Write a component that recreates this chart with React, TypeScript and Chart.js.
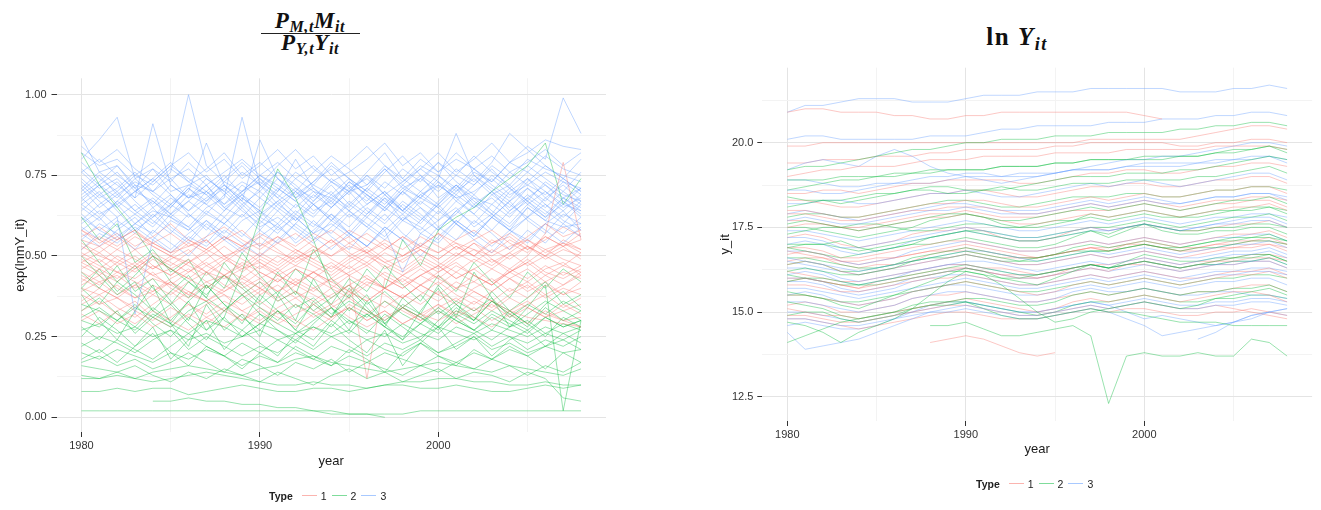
import React, { useEffect, useRef } from "react";
import { Chart, registerables } from "chart.js";
Chart.register(...registerables);

type V = number | null;

const YEARS = [1980, 1981, 1982, 1983, 1984, 1985, 1986, 1987, 1988, 1989, 1990, 1991, 1992, 1993, 1994, 1995, 1996, 1997, 1998, 1999, 2000, 2001, 2002, 2003, 2004, 2005, 2006, 2007, 2008];
const X_TICKS = [1980, 1985, 1990, 1995, 2000, 2005];
const X_MAJOR = [1980, 1990, 2000];
const TYPE_LABELS = ["1", "2", "3"];

const LEFT_Y_MAJOR = [0, 0.25, 0.5, 0.75, 1.0];
const LEFT_Y_MINOR = [0.125, 0.375, 0.625, 0.875];
const RIGHT_Y_MAJOR = [12.5, 15.0, 17.5, 20.0];
const RIGHT_Y_MINOR = [13.75, 16.25, 18.75, 21.25];

// Left panel: exp(lnmY_it), Type 1 (red)
const shareType1: V[][] = [
  [.55,.53,.56,.52,.54,.51,.53,.55,.50,.52,.54,.51,.49,.52,.50,.53,.51,.48,.50,.53,.51,.54,.52,.50,.53,.55,.52,.54,.51],
  [.50,.47,.45,.48,.44,.46,.49,.45,.43,.46,.48,.44,.47,.45,.42,.45,.48,.44,.41,.44,.47,.43,.46,.49,.45,.48,.52,.49,.47],
  [.45,.42,.44,.40,.43,.41,.38,.42,.44,.40,.43,.39,.42,.45,.41,.38,.42,.40,.37,.41,.44,.40,.42,.39,.43,.46,.42,.45,.43],
  [.58,.55,.52,.56,.53,.50,.54,.51,.55,.58,.53,.56,.52,.49,.53,.56,.51,.54,.50,.53,.57,.52,.55,.58,.54,.51,.56,.53,.57],
  [.38,.35,.37,.33,.30,.34,.31,.35,.38,.33,.36,.32,.35,.31,.34,.37,.33,.30,.34,.31,.35,.32,.36,.33,.37,.34,.31,.35,.32],
  [.48,.51,.47,.50,.46,.49,.52,.47,.50,.45,.49,.46,.50,.47,.44,.48,.51,.46,.49,.52,.48,.45,.49,.46,.50,.53,.49,.52,.50],
  [.42,.46,.43,.47,.44,.41,.45,.48,.44,.41,.45,.42,.46,.43,.40,.44,.12,.43,.40,.44,.41,.45,.42,.46,.43,.40,.44,.41,.45],
  [.53,.50,.48,.45,.49,.46,.43,.47,.44,.48,.45,.42,.46,.43,.47,.44,.41,.45,.42,.46,.43,.47,.44,.41,.45,.42,.46,.48,.44],
  [.33,.36,.32,.29,.33,.30,.27,.31,.34,.30,.33,.29,.32,.35,.31,.34,.30,.33,.29,.32,.35,.31,.34,.30,.33,.36,.32,.30,.28],
  [.47,.44,.48,.52,.47,.44,.48,.45,.49,.46,.50,.47,.51,.48,.45,.49,.52,.48,.45,.49,.46,.50,.54,.49,.46,.50,.57,.79,.55],
  [.40,.38,.41,.37,.39,.42,.38,.36,.39,.42,.38,.41,.37,.40,.43,.39,.36,.40,.37,.41,.38,.42,.39,.36,.40,.37,.41,.38,.42],
  [.52,.56,.53,.57,.54,.51,.55,.52,.56,.53,.50,.54,.57,.53,.50,.54,.51,.55,.52,.56,.53,.50,.54,.51,.55,.52,.56,.53,.55],
  [.36,.40,.37,.34,.38,.35,.39,.36,.33,.37,.40,.36,.39,.35,.38,.41,.37,.34,.38,.35,.39,.36,.40,.43,.39,.42,.38,.41,.44],
  [.44,.41,.45,.42,.39,.43,.46,.42,.39,.43,.40,.44,.41,.45,.42,.39,.43,.40,.44,.47,.43,.40,.44,.41,.45,.48,.44,.47,.45],
  [.30,.33,.29,.32,.28,.31,.35,.31,.28,.32,.29,.33,.30,.27,.31,.34,.30,.33,.29,.32,.30,.33,.31,.28,.32,.29,.33,.30,.31],
  [.49,.46,.50,.47,.51,.48,.45,.49,.53,.49,.46,.50,.47,.51,.55,.50,.47,.51,.48,.52,.49,.53,.50,.47,.51,.55,.51,.54,.52],
  [.56,.59,.55,.58,.54,.57,.53,.56,.59,.55,.52,.56,.53,.57,.54,.58,.55,.52,.56,.53,.57,.54,.50,.55,.52,.56,.60,.56,.58],
  [.41,.44,.40,.37,.41,.38,.42,.45,.41,.38,.42,.39,.43,.40,.37,.41,.44,.40,.37,.41,.38,.35,.39,.36,.33,.31,.30,.29,.28],
  [.46,.49,.45,.43,.47,.44,.48,.51,.46,.43,.47,.44,.41,.45,.48,.44,.47,.43,.40,.44,.47,.43,.46,.42,.45,.49,.45,.43,.46],
  [.51,.48,.52,.49,.46,.50,.47,.44,.48,.52,.48,.45,.49,.53,.49,.46,.50,.47,.44,.48,.45,.49,.52,.48,.51,.47,.50,.53,.49],
  [.39,.42,.38,.41,.45,.40,.37,.41,.38,.35,.39,.43,.39,.36,.40,.37,.41,.38,.34,.38,.42,.38,.35,.39,.43,.39,.42,.38,.40],
  [.54,.51,.55,.58,.53,.50,.48,.52,.49,.53,.56,.52,.48,.51,.55,.51,.48,.52,.56,.52,.49,.53,.50,.54,.57,.53,.50,.55,.52],
  [.43,.40,.37,.41,.38,.42,.39,.36,.40,.44,.40,.37,.41,.38,.35,.39,.36,.40,.43,.39,.36,.40,.37,.34,.38,.41,.37,.40,.38],
  [.58,.54,.57,.53,.56,.60,.55,.52,.56,.53,.57,.54,.51,.55,.58,.54,.57,.53,.50,.54,.51,.55,.58,.54,.56,.52,.55,.59,.56],
  [.35,.38,.34,.31,.35,.39,.35,.32,.36,.33,.30,.34,.37,.33,.30,.35,.32,.36,.33,.30,.34,.37,.33,.36,.32,.35,.38,.34,.37],
  [.48,.45,.42,.46,.50,.46,.43,.40,.44,.47,.43,.46,.42,.39,.43,.47,.43,.40,.44,.41,.45,.48,.44,.41,.46,.43,.47,.44,.47],
  [.50,.53,.49,.46,.50,.47,.51,.55,.50,.47,.51,.48,.52,.49,.46,.50,.53,.49,.46,.50,.47,.51,.48,.52,.49,.53,.50,.47,.51],
  [.32,.29,.33,.36,.31,.28,.32,.29,.33,.30,.34,.31,.28,.32,.35,.31,.28,.31,.34,.30,.33,.29,.32,.35,.31,.34,.31,.33,.35],
];

// Left panel, Type 2 (green)
const shareType2: V[][] = [
  [.02,.02,.02,.02,.02,.02,.02,.02,.02,.02,.02,.02,.02,.02,.01,.01,.01,.01,.01,.02,.02,.02,.02,.02,.02,.02,.02,.02,.02],
  [null,null,null,null,.05,.05,.06,.05,.05,.04,.04,.03,.03,.02,.02,.01,.01,.00,null,null,null,null,null,null,null,null,null,null,null],
  [.08,.08,.09,.08,.09,.09,.07,.08,.09,.10,.09,.08,.08,.09,.09,.08,.09,.10,.10,.09,.09,.10,.09,.08,.08,.09,.10,.09,.10],
  [.12,.12,.13,.12,.11,.12,.13,.14,.13,.12,.11,.10,.10,.11,.10,.10,.09,.10,.11,.11,.12,.12,.11,.11,.10,.10,.11,.10,.10],
  [.16,.15,.14,.12,.14,.15,.16,.15,.14,.13,.15,.16,.18,.19,.17,.16,.15,.14,.15,.16,.17,.16,.15,.14,.16,.15,.14,.13,.15],
  [.22,.25,.23,.20,.24,.27,.21,.25,.22,.19,.22,.20,.24,.21,.25,.22,.19,.23,.21,.24,.20,.23,.26,.22,.25,.21,.24,.22,.25],
  [.82,.72,.65,.58,.50,.46,.42,.38,.44,.40,.35,.39,.34,.37,.32,.36,.33,.30,.34,.31,.28,.32,.29,.33,.30,.27,.31,.28,.30],
  [.30,.28,.33,.26,.31,.35,.29,.24,.31,.45,.62,.77,.68,.55,.40,.33,.38,.29,.34,.31,.27,.33,.30,.36,.32,.28,.34,.30,.33],
  [.27,.29,.26,.28,.25,.27,.24,.26,.23,.25,.27,.24,.26,.28,.25,.27,.24,.26,.23,.25,.28,.26,.24,.27,.25,.23,.26,.24,.27],
  [.35,.33,.30,.34,.31,.28,.33,.36,.30,.27,.32,.29,.26,.30,.34,.29,.32,.28,.25,.29,.33,.30,.27,.31,.28,.32,.36,.33,.30],
  [.45,.40,.47,.39,.43,.36,.30,.41,.35,.29,.38,.33,.27,.36,.31,.40,.34,.28,.37,.32,.41,.35,.30,.39,.33,.37,.42,.35,.38],
  [.20,.18,.21,.19,.17,.20,.18,.21,.19,.16,.19,.17,.20,.18,.16,.19,.17,.20,.18,.16,.19,.17,.20,.18,.21,.19,.22,.20,.21],
  [.38,.30,.24,.33,.41,.29,.22,.35,.27,.32,.25,.38,.30,.43,.34,.27,.36,.29,.24,.33,.40,.31,.45,.37,.28,.34,.41,.02,.30],
  [.50,.44,.38,.42,.33,.29,.36,.27,.31,.25,.29,.33,.27,.24,.30,.26,.32,.28,.24,.29,.26,.31,.27,.24,.28,.30,.26,.29,.27],
  [.25,.31,.27,.22,.28,.18,.24,.30,.21,.27,.23,.19,.26,.22,.29,.24,.20,.27,.16,.23,.28,.21,.25,.19,.24,.27,.22,.26,.23],
  [.40,.35,.42,.38,.33,.39,.44,.37,.48,.41,.36,.45,.38,.52,.43,.37,.46,.40,.55,.47,.58,.62,.65,.70,.74,.78,.85,.66,.74],
  [.31,.34,.30,.27,.32,.29,.26,.30,.28,.25,.29,.27,.24,.28,.26,.30,.27,.25,.29,.26,.24,.28,.26,.29,.27,.25,.28,.26,.28],
  [.18,.21,.17,.22,.26,.20,.16,.22,.19,.15,.20,.17,.22,.19,.16,.21,.18,.14,.20,.23,.19,.16,.21,.18,.22,.19,.15,.20,.17],
  [.55,.48,.42,.47,.40,.35,.42,.37,.33,.38,.34,.30,.35,.32,.28,.34,.31,.36,.32,.29,.34,.30,.27,.32,.29,.26,.31,.28,.30],
  [.13,.12,.14,.16,.13,.11,.14,.12,.15,.13,.11,.14,.12,.10,.13,.15,.12,.14,.11,.13,.15,.12,.14,.13,.11,.14,.12,.06,.05],
  [.28,.24,.30,.35,.29,.25,.31,.27,.33,.38,.32,.27,.23,.29,.34,.30,.26,.32,.28,.24,.30,.35,.31,.27,.33,.29,.25,.31,.28],
  [.33,.37,.32,.28,.34,.30,.36,.41,.35,.31,.27,.33,.29,.35,.31,.38,.33,.29,.35,.32,.28,.34,.30,.36,.33,.29,.35,.39,.34],
  [.23,.20,.24,.21,.18,.22,.26,.22,.19,.23,.20,.24,.21,.18,.22,.20,.24,.21,.19,.23,.20,.22,.25,.21,.23,.20,.22,.24,.21],
  [.62,.55,.60,.48,.52,.45,.49,.40,.44,.38,.42,.36,.39,.33,.37,.41,.35,.39,.34,.38,.32,.36,.33,.37,.31,.35,.32,.36,.33],
  [.17,.19,.16,.18,.15,.17,.20,.17,.14,.18,.16,.13,.17,.15,.18,.14,.17,.15,.13,.16,.14,.17,.15,.18,.16,.13,.16,.14,.17],
  [.40,.46,.39,.44,.50,.42,.37,.45,.40,.51,.44,.38,.46,.41,.35,.43,.39,.47,.41,.36,.44,.39,.48,.42,.37,.45,.40,.46,.42],
];

// Left panel, Type 3 (blue)
const shareType3: V[][] = [
  [.87,.76,.78,.72,.70,.74,.68,.72,.66,.70,.73,.69,.65,.70,.68,.72,.66,.70,.64,.69,.72,.68,.70,.74,.69,.72,.76,.73,.71],
  [.80,.86,.93,.74,.77,.70,.72,.75,.69,.73,.70,.76,.71,.68,.74,.70,.72,.77,.71,.74,.70,.75,.72,.78,.74,.80,.77,.75,.73],
  [.76,.71,.74,.68,.91,.72,.68,.70,.65,.62,.68,.64,.70,.66,.61,.67,.63,.69,.64,.60,.66,.71,.65,.68,.63,.67,.62,.66,.64],
  [.70,.75,.69,.73,.70,.76,1.0,.78,.73,.70,.75,.72,.68,.73,.77,.71,.74,.69,.73,.78,.75,.70,.76,.73,.79,.82,.86,.84,.83],
  [.68,.63,.66,.60,.64,.62,.59,.65,.68,.93,.72,.66,.70,.64,.67,.62,.66,.70,.65,.61,.67,.72,.68,.66,.71,.67,.73,.69,.67],
  [.66,.70,.64,.58,.62,.66,.70,.85,.72,.67,.86,.74,.68,.71,.66,.73,.69,.64,.70,.75,.68,.72,.66,.70,.64,.68,.72,.67,.62],
  [.72,.67,.62,.32,.55,.61,.58,.63,.60,.56,.62,.59,.64,.60,.57,.63,.59,.55,.61,.58,.64,.60,.56,.62,.58,.65,.61,.59,.60],
  [.63,.58,.62,.66,.61,.57,.63,.59,.55,.61,.64,.58,.62,.57,.60,.56,.62,.58,.45,.57,.61,.65,.59,.63,.58,.62,.66,.61,.58],
  [.58,.62,.56,.60,.65,.59,.55,.61,.57,.63,.58,.54,.60,.66,.62,.57,.63,.68,.61,.65,.59,.63,.69,.64,.60,.66,.62,.68,.64],
  [.77,.72,.76,.70,.74,.79,.73,.77,.82,.75,.79,.74,.70,.76,.81,.77,.72,.78,.74,.80,.76,.82,.77,.73,.79,.84,.80,.99,.88],
  [.69,.73,.78,.71,.66,.72,.68,.74,.70,.65,.71,.76,.72,.67,.73,.70,.76,.82,.74,.70,.75,.71,.77,.72,.68,.74,.70,.66,.71],
  [.55,.60,.57,.52,.58,.54,.50,.56,.62,.57,.53,.59,.55,.61,.56,.52,.58,.63,.57,.53,.59,.55,.61,.57,.52,.58,.54,.60,.56],
  [.74,.69,.65,.70,.67,.63,.69,.66,.72,.68,.64,.70,.80,.71,.67,.73,.69,.65,.71,.68,.74,.88,.75,.70,.76,.72,.69,.74,.70],
  [.61,.66,.70,.64,.68,.63,.67,.72,.65,.69,.74,.68,.63,.69,.65,.70,.75,.69,.64,.70,.66,.72,.67,.63,.70,.74,.68,.72,.67],
  [.52,.57,.54,.59,.55,.51,.56,.53,.58,.54,.50,.55,.60,.56,.52,.57,.53,.58,.63,.57,.54,.60,.55,.51,.57,.62,.58,.54,.59],
  [.79,.74,.70,.75,.72,.77,.73,.69,.74,.79,.74,.70,.76,.72,.78,.74,.70,.76,.81,.75,.71,.77,.73,.79,.88,.83,.78,.74,.80],
  [.65,.61,.67,.63,.59,.65,.71,.66,.62,.68,.64,.60,.66,.62,.68,.64,.69,.65,.61,.67,.63,.69,.65,.70,.66,.62,.68,.64,.69],
  [.71,.76,.72,.68,.73,.78,.74,.70,.66,.72,.68,.74,.69,.73,.79,.74,.70,.66,.72,.77,.73,.69,.75,.71,.67,.73,.78,.74,.70],
  [.59,.55,.61,.57,.63,.58,.54,.60,.56,.52,.58,.64,.59,.55,.61,.57,.53,.59,.55,.61,.66,.60,.56,.62,.58,.54,.60,.57,.62],
  [.67,.72,.68,.74,.69,.65,.71,.67,.73,.78,.72,.68,.74,.70,.65,.71,.67,.73,.69,.74,.79,.73,.69,.75,.71,.76,.72,.68,.65],
  [null,null,null,null,null,.62,.67,.63,.69,.64,.60,.66,.62,.57,.63,.59,.65,.61,.67,.63,.58,.64,.60,.66,.62,.68,.64,.60,.66],
  [.82,.78,.80,.75,.79,.74,.77,.72,.76,.80,.75,.79,.74,.78,.73,.76,.80,.85,.78,.82,.76,.80,.77,.81,.76,.79,.83,.78,.82],
  [.64,.69,.73,.67,.62,.68,.64,.70,.75,.69,.65,.71,.67,.63,.69,.74,.68,.64,.70,.66,.72,.68,.63,.69,.65,.71,.67,.73,.69],
  [.73,.68,.71,.76,.70,.66,.72,.69,.64,.70,.75,.71,.67,.72,.69,.65,.71,.77,.72,.68,.65,.70,.74,.69,.72,.67,.63,.68,.71],
  [.60,.64,.59,.63,.67,.62,.58,.64,.60,.66,.61,.57,.63,.59,.65,.70,.64,.60,.66,.62,.58,.64,.68,.63,.59,.65,.61,.67,.63],
  [.76,.80,.75,.71,.77,.73,.79,.74,.70,.76,.72,.78,.83,.77,.73,.69,.75,.71,.77,.73,.79,.75,.81,.76,.72,.78,.74,.70,.76],
  [.57,.53,.58,.62,.56,.52,.57,.61,.55,.51,.56,.60,.54,.58,.63,.57,.53,.59,.55,.50,.56,.61,.57,.53,.58,.55,.60,.64,.58],
  [.68,.72,.66,.70,.74,.69,.64,.68,.72,.67,.62,.67,.71,.66,.61,.66,.71,.67,.63,.68,.73,.67,.72,.77,.71,.66,.70,.65,.68],
  [.71,.65,.69,.64,.60,.66,.62,.67,.71,.66,.70,.65,.61,.67,.72,.66,.62,.68,.64,.69,.65,.60,.66,.62,.67,.71,.66,.62,.67],
  [.62,.58,.55,.60,.57,.63,.59,.54,.60,.65,.59,.62,.58,.54,.59,.64,.60,.56,.62,.59,.55,.61,.57,.62,.67,.61,.57,.63,.60],
  [.84,.79,.83,.77,.73,.78,.82,.76,.80,.74,.78,.83,.77,.81,.75,.79,.84,.78,.73,.77,.82,.76,.80,.85,.79,.76,.81,.77,.75],
  [.66,.62,.67,.72,.65,.69,.63,.58,.64,.69,.63,.67,.61,.66,.70,.64,.59,.65,.70,.65,.61,.67,.63,.58,.64,.69,.65,.70,.66],
];

// Right panel: y_it (ln Y), Type 1 (red)
const outputType1: V[][] = [
  [20.9,21.0,21.0,20.9,20.9,20.9,20.8,20.8,20.7,20.7,20.8,20.8,20.9,20.9,20.9,20.9,20.9,20.9,20.9,20.9,20.8,20.7,null,null,null,null,null,null,null],
  [19.9,19.9,20.0,20.0,20.0,20.0,20.0,20.0,20.0,20.0,20.0,20.0,20.0,20.0,20.0,20.0,20.0,20.1,20.1,20.1,20.1,20.1,20.1,20.2,20.3,20.4,20.5,20.5,20.4],
  [19.0,19.1,19.2,19.2,19.3,19.3,19.3,19.4,19.5,19.5,19.5,19.6,19.6,19.6,19.6,19.7,19.7,19.7,19.7,19.8,19.8,19.8,19.8,19.8,19.9,19.9,19.9,19.9,19.8],
  [18.5,18.5,18.6,18.6,18.5,18.6,18.7,18.8,18.8,18.9,18.9,18.9,18.9,18.8,18.8,18.9,19.0,19.1,19.1,19.2,19.2,19.1,19.1,19.2,19.3,19.3,19.4,19.4,19.3],
  [18.0,18.0,17.9,17.8,17.8,17.9,18.0,18.1,18.2,18.2,18.3,18.3,18.2,18.1,18.1,18.2,18.3,18.4,18.3,18.4,18.5,18.4,18.4,18.5,18.6,18.6,18.7,18.7,18.5],
  [17.5,17.6,17.6,17.5,17.4,17.5,17.6,17.7,17.8,17.8,17.9,17.8,17.7,17.6,17.6,17.7,17.8,17.9,17.8,17.9,18.0,17.9,17.8,17.9,18.0,18.1,18.1,18.2,18.0],
  [16.9,16.9,16.8,16.6,16.6,16.7,16.8,16.9,17.0,17.1,17.1,17.0,16.9,16.8,16.8,16.9,17.0,17.1,17.0,17.1,17.2,17.1,17.0,17.1,17.2,17.3,17.3,17.4,17.2],
  [16.4,16.5,16.4,16.2,16.1,16.2,16.3,16.4,16.5,16.6,16.7,16.6,16.5,16.4,16.4,16.5,16.6,16.7,16.6,16.7,16.8,16.7,16.6,16.7,16.8,16.9,16.9,17.0,16.8],
  [16.0,16.0,15.9,15.8,15.7,15.8,15.9,16.0,16.1,16.2,16.3,16.2,16.1,16.0,16.0,16.1,16.2,16.3,16.2,16.4,16.5,16.4,16.3,16.4,16.5,16.5,16.6,16.6,16.5],
  [15.5,15.5,15.4,15.3,15.2,15.3,15.4,15.6,15.7,15.8,15.9,15.8,15.7,15.6,15.5,15.6,15.8,15.9,15.8,15.9,16.0,15.9,15.8,15.9,16.0,16.1,16.1,16.2,16.0],
  [15.1,15.0,14.9,14.9,14.8,14.9,15.0,15.1,15.2,15.3,15.4,15.3,15.2,15.1,15.0,15.1,15.3,15.4,15.3,15.4,15.5,15.4,15.3,15.4,15.5,15.6,15.6,15.5,15.3],
  [null,null,null,null,null,null,null,null,14.1,14.2,14.3,14.2,14.0,13.8,13.7,13.8,null,null,null,null,null,null,null,null,null,null,null,null,null],
  [16.7,16.8,16.7,16.5,16.5,16.6,16.6,16.7,16.8,16.9,17.0,16.9,16.8,16.7,16.6,16.7,16.8,16.9,16.8,17.0,17.1,17.0,16.9,16.9,17.0,17.0,17.1,17.1,17.0],
  [15.8,15.8,15.7,15.6,15.6,15.7,15.8,15.9,16.0,16.0,16.1,16.0,15.9,15.8,15.8,15.9,16.0,16.1,16.0,16.1,16.2,16.1,16.0,16.0,16.1,16.2,16.2,16.3,16.1],
  [17.9,17.9,17.8,17.7,17.7,17.8,17.9,18.0,18.0,18.1,18.1,18.1,18.0,17.9,17.9,18.0,18.1,18.2,18.1,18.2,18.3,18.2,18.1,18.2,18.3,18.3,18.4,18.4,18.3],
  [14.9,14.9,14.8,14.7,14.7,14.8,14.9,15.0,15.1,15.2,15.2,15.1,15.0,14.9,14.9,15.0,15.1,15.2,15.1,15.2,15.3,15.2,15.1,15.1,15.2,15.1,15.0,14.9,14.8],
  [17.2,17.3,17.2,17.0,16.9,17.0,17.1,17.3,17.4,17.4,17.5,17.4,17.2,17.1,17.1,17.2,17.4,17.5,17.4,17.5,17.6,17.5,17.4,17.4,17.5,17.6,17.6,17.7,17.5],
  [16.2,16.1,16.0,15.9,15.9,16.0,16.1,16.2,16.3,16.4,16.4,16.3,16.3,16.2,16.1,16.2,16.3,16.4,16.4,16.5,16.6,16.5,16.4,16.5,16.5,16.6,16.7,16.7,16.6],
  [15.2,15.3,15.2,15.0,15.0,15.1,15.2,15.4,15.5,15.5,15.6,15.5,15.4,15.3,15.3,15.4,15.5,15.6,15.5,15.6,15.7,15.6,15.5,15.6,15.6,15.7,15.8,15.8,15.6],
  [18.3,18.3,18.2,18.1,18.1,18.2,18.3,18.4,18.5,18.5,18.6,18.6,18.5,18.4,18.4,18.5,18.6,18.7,18.7,18.8,18.8,18.7,18.7,18.8,18.9,18.9,19.0,19.0,18.8],
  [16.5,16.6,16.6,16.4,16.3,16.4,16.4,16.5,16.7,16.8,16.8,16.7,16.6,16.6,16.6,16.7,16.8,16.9,16.9,17.0,17.0,16.9,16.8,16.9,17.0,17.1,17.1,17.2,17.0],
  [14.8,14.8,14.7,14.6,14.5,14.6,14.7,14.8,14.9,15.0,15.0,14.9,14.8,14.8,14.8,14.9,15.0,15.1,15.0,15.1,15.1,15.0,14.9,14.9,15.0,15.0,15.1,15.0,14.9],
  [17.7,17.7,17.6,17.5,17.5,17.6,17.7,17.8,17.9,17.9,18.0,17.9,17.8,17.8,17.8,17.9,18.0,18.0,18.0,18.1,18.2,18.1,18.0,18.1,18.2,18.2,18.3,18.3,18.1],
  [15.9,16.0,15.9,15.8,15.7,15.9,16.0,16.1,16.2,16.3,16.3,16.2,16.1,16.1,16.0,16.1,16.3,16.4,16.3,16.4,16.4,16.3,16.2,16.3,16.4,16.4,16.5,16.5,16.3],
  [19.4,19.4,19.5,19.5,19.5,19.6,19.6,19.6,19.7,19.7,19.8,19.8,19.8,19.8,19.8,19.9,19.9,20.0,20.0,20.0,20.0,20.0,19.9,19.9,20.0,20.0,20.1,20.1,20.0],
  [16.8,16.7,16.6,16.5,16.4,16.5,16.6,16.7,16.8,16.8,16.9,16.8,16.7,16.6,16.6,16.7,16.8,16.9,16.8,16.9,17.0,16.9,16.8,16.8,16.9,16.9,17.0,17.0,16.9],
];

// Right panel, Type 2 (green)
const outputType2: V[][] = [
  [19.2,19.3,19.3,19.4,19.5,19.6,19.7,19.8,19.8,19.9,20.0,20.0,20.1,20.1,20.1,20.2,20.2,20.2,20.3,20.3,20.3,20.3,20.4,20.4,20.5,20.5,20.6,20.6,20.5],
  [18.9,18.9,18.9,19.0,19.0,19.0,19.1,19.1,19.1,19.2,19.2,19.2,19.3,19.3,19.3,19.4,19.4,19.5,19.5,19.5,19.5,19.5,19.6,19.6,19.7,19.7,19.8,19.9,19.7],
  [18.4,18.3,18.3,18.2,18.3,18.4,18.5,18.6,18.7,18.7,18.6,18.6,18.6,18.7,18.8,18.9,19.0,19.0,19.0,19.1,19.1,19.1,19.2,19.2,19.3,19.4,19.5,19.6,19.5],
  [17.6,17.7,17.6,17.5,17.4,17.5,17.6,17.7,17.8,17.9,17.9,17.8,17.7,17.7,17.8,17.9,18.0,18.1,18.0,18.1,18.2,18.1,18.0,18.1,18.2,18.3,18.3,18.4,18.2],
  [17.0,17.0,17.0,17.1,16.9,16.8,16.9,17.0,17.2,17.3,17.4,17.3,17.2,17.1,17.1,17.2,17.3,17.4,17.3,17.5,17.6,17.5,17.4,17.4,17.5,17.5,17.6,17.6,17.5],
  [16.2,16.3,16.2,16.1,16.1,16.2,16.3,16.5,16.6,16.7,16.8,16.7,16.6,16.5,16.5,16.6,16.7,16.8,16.8,16.9,17.0,16.9,16.8,16.9,16.9,17.0,17.1,17.1,17.0],
  [15.6,15.5,15.4,15.2,15.1,15.3,15.5,15.7,15.9,16.1,16.3,16.2,16.0,15.9,15.8,16.0,16.2,16.4,16.3,16.4,16.5,16.4,16.3,16.4,16.5,16.6,16.6,16.7,16.5],
  [14.1,14.3,14.5,14.7,14.8,14.9,15.0,15.2,15.3,15.3,15.4,15.4,15.3,15.2,15.2,15.3,15.5,15.6,15.5,15.6,15.7,15.6,15.5,15.6,15.6,15.7,15.7,15.8,15.6],
  [14.7,14.6,14.4,14.1,14.4,14.6,14.8,15.1,15.5,15.9,16.2,16.1,15.8,15.4,15.0,14.7,14.8,15.0,15.1,15.2,15.3,15.2,15.1,15.2,15.4,15.5,15.6,15.7,15.5],
  [null,null,null,null,null,null,null,null,14.6,14.6,14.7,14.5,14.3,14.3,14.4,14.5,14.6,14.3,12.3,13.7,13.8,13.7,13.7,13.8,13.7,13.7,14.2,14.1,13.7],
  [15.3,15.2,15.1,14.9,14.8,14.9,15.0,15.1,15.2,15.3,15.3,15.1,14.9,14.8,14.8,14.9,15.0,15.1,15.0,15.0,14.9,14.8,14.7,14.7,14.7,14.6,14.6,14.6,14.6],
  [16.6,16.6,16.5,16.4,16.3,16.3,16.4,16.5,16.6,16.6,16.7,16.6,16.5,16.5,16.6,16.7,16.8,16.8,16.8,16.9,17.0,16.9,16.9,17.0,17.1,17.2,17.2,17.3,17.1],
  [17.3,17.4,17.5,17.5,17.6,17.6,17.5,17.4,17.4,17.5,17.6,17.6,17.5,17.5,17.6,17.7,17.7,17.8,17.7,17.8,17.9,17.8,17.8,17.9,18.0,18.0,18.1,18.1,18.0],
  [15.9,16.0,16.0,15.9,15.8,15.8,15.9,16.0,16.1,16.2,16.2,16.1,16.0,16.0,16.1,16.2,16.3,16.4,16.3,16.5,16.7,16.6,16.5,16.5,16.6,16.6,16.7,16.7,16.5],
  [18.1,18.2,18.3,18.3,18.4,18.5,18.5,18.6,18.6,18.5,18.5,18.6,18.7,18.6,18.6,18.7,18.8,18.8,18.8,18.9,18.9,18.9,18.9,19.0,19.0,19.1,19.2,19.3,19.1],
  [16.9,16.8,16.7,16.6,16.7,16.8,16.9,17.0,17.0,17.1,17.2,17.1,17.0,16.9,16.9,17.0,17.2,17.4,17.2,17.4,17.6,17.4,17.3,17.3,17.4,17.4,17.5,17.5,17.3],
  [16.4,16.5,16.4,16.2,16.2,16.3,16.4,16.6,16.7,16.8,16.9,16.8,16.7,16.6,16.6,16.7,16.9,17.0,16.9,17.0,17.1,17.0,16.9,17.0,17.1,17.1,17.2,17.2,17.1],
  [15.5,15.5,15.4,15.3,15.3,15.4,15.5,15.6,15.7,15.8,15.9,15.8,15.7,15.6,15.6,15.7,15.8,15.9,15.8,15.9,16.0,15.9,15.8,15.9,16.0,16.0,16.1,16.1,16.0],
  [17.8,17.9,17.9,17.8,17.8,17.9,18.0,18.1,18.2,18.3,18.3,18.2,18.1,18.1,18.2,18.3,18.4,18.4,18.4,18.5,18.5,18.4,18.4,18.5,18.6,18.6,18.7,18.7,18.6],
  [16.9,17.0,17.0,16.9,16.8,16.9,17.0,17.1,17.2,17.3,17.4,17.4,17.3,17.2,17.2,17.3,17.4,17.5,17.5,17.6,17.7,17.6,17.5,17.6,17.7,17.8,17.8,17.9,17.7],
  [14.9,15.0,15.0,14.8,14.7,14.8,14.9,15.1,15.2,15.2,15.3,15.2,15.1,15.0,14.9,15.0,15.2,15.3,15.3,15.4,15.5,15.4,15.3,15.3,15.4,15.4,15.5,15.5,15.4],
  [16.1,16.0,15.9,15.8,15.8,15.9,16.0,16.1,16.2,16.3,16.4,16.3,16.2,16.1,16.1,16.2,16.3,16.4,16.3,16.4,16.5,16.4,16.3,16.4,16.4,16.5,16.5,16.6,16.4],
  [18.6,18.7,18.8,18.9,18.9,19.0,19.0,19.1,19.2,19.2,19.2,19.2,19.3,19.3,19.3,19.4,19.4,19.5,19.5,19.5,19.6,19.6,19.6,19.6,19.7,19.8,19.8,19.9,19.8],
  [17.5,17.5,17.4,17.3,17.2,17.3,17.4,17.5,17.7,17.8,17.9,17.8,17.6,17.5,17.5,17.6,17.7,17.9,17.8,17.9,18.0,17.9,17.8,17.8,17.9,18.0,18.0,18.1,17.9],
];

// Right panel, Type 3 (blue)
const outputType3: V[][] = [
  [20.9,21.1,21.1,21.2,21.3,21.3,21.3,21.2,21.2,21.2,21.3,21.4,21.4,21.4,21.5,21.5,21.5,21.6,21.6,21.6,21.6,21.6,21.5,21.5,21.5,21.6,21.6,21.7,21.6],
  [20.1,20.2,20.2,20.1,20.1,20.1,20.1,20.1,20.2,20.2,20.2,20.3,20.4,20.4,20.5,20.5,20.5,20.5,20.6,20.6,20.6,20.7,20.7,20.7,20.8,20.8,20.9,20.9,20.8],
  [19.2,19.4,19.5,19.4,19.3,19.6,19.8,19.6,19.3,19.1,19.0,18.9,18.8,18.9,19.0,19.1,19.2,19.3,19.4,19.5,19.5,19.6,19.6,19.7,19.8,19.9,20.0,20.0,19.9],
  [18.6,18.6,18.5,18.5,18.6,18.7,18.8,18.8,18.8,18.9,19.0,19.0,19.0,19.1,19.1,19.1,19.2,19.2,19.2,19.3,19.4,19.4,19.4,19.4,19.5,19.5,19.6,19.6,19.5],
  [17.7,17.8,17.7,17.6,17.6,17.7,17.8,17.9,18.0,18.0,18.1,18.0,17.9,17.9,17.9,18.0,18.1,18.2,18.1,18.2,18.3,18.2,18.2,18.3,18.4,18.4,18.5,18.5,18.4],
  [17.2,17.2,17.1,16.9,16.9,17.0,17.1,17.2,17.3,17.4,17.5,17.4,17.3,17.2,17.2,17.3,17.4,17.5,17.4,17.5,17.6,17.5,17.4,17.5,17.6,17.6,17.7,17.7,17.5],
  [16.6,16.5,16.4,16.3,16.2,16.3,16.4,16.5,16.6,16.7,16.8,16.8,16.7,16.6,16.5,16.6,16.7,16.8,16.7,16.8,16.9,16.8,16.7,16.8,16.9,17.0,17.0,17.1,16.9],
  [16.3,16.3,16.2,16.0,15.9,16.0,16.1,16.2,16.3,16.4,16.5,16.5,16.4,16.3,16.2,16.3,16.4,16.5,16.4,16.5,16.6,16.5,16.4,16.5,16.6,16.7,16.7,16.8,16.6],
  [15.7,15.7,15.6,15.5,15.4,15.5,15.6,15.7,15.8,15.9,16.0,15.9,15.8,15.7,15.7,15.8,15.9,16.0,15.9,16.0,16.1,16.0,15.9,16.0,16.1,16.1,16.2,16.2,16.1],
  [14.4,13.9,14.0,14.1,14.2,14.4,14.6,14.8,15.0,15.1,15.2,15.1,15.0,14.9,14.9,15.0,15.1,15.2,15.1,15.2,15.3,15.2,15.1,15.1,15.2,15.2,15.3,15.3,15.2],
  [14.8,14.8,14.7,14.6,14.6,14.7,14.8,14.9,15.0,15.0,15.1,15.0,14.9,14.8,14.8,14.9,15.0,15.1,15.0,14.8,14.6,14.3,14.4,14.5,14.6,14.7,14.8,15.0,15.1],
  [15.3,15.3,15.2,15.1,15.0,15.1,15.2,15.4,15.5,15.6,15.6,15.5,15.4,15.3,15.3,15.4,15.6,15.7,15.6,15.6,15.7,15.6,15.5,15.5,15.6,15.6,15.5,15.5,15.4],
  [17.0,17.1,17.0,16.8,16.7,16.8,16.9,17.1,17.2,17.3,17.4,17.3,17.2,17.1,17.1,17.2,17.3,17.4,17.4,17.5,17.6,17.5,17.4,17.5,17.6,17.7,17.8,17.8,17.6],
  [16.0,16.0,15.9,15.7,15.6,15.7,15.8,16.0,16.1,16.2,16.3,16.2,16.1,16.0,16.0,16.1,16.2,16.3,16.2,16.3,16.4,16.3,16.2,16.3,16.4,16.4,16.5,16.5,16.3],
  [18.2,18.2,18.3,18.3,18.2,18.2,18.3,18.4,18.5,18.5,18.6,18.5,18.4,18.4,18.5,18.6,18.7,18.8,18.7,18.8,18.9,18.8,18.7,18.8,18.9,19.0,19.1,19.1,18.9],
  [null,null,null,null,null,null,null,null,null,null,null,null,null,null,null,null,null,null,null,null,null,null,null,14.2,14.4,14.7,14.9,15.0,15.1],
  [16.8,16.8,16.7,16.5,16.4,16.5,16.6,16.8,16.9,17.0,17.1,17.0,16.9,16.8,16.8,16.9,17.0,17.1,17.0,17.1,17.2,17.1,17.0,17.1,17.2,17.2,17.3,17.3,17.1],
  [16.5,16.4,16.3,16.2,16.1,16.2,16.3,16.4,16.5,16.6,16.7,16.6,16.5,16.4,16.4,16.5,16.6,16.7,16.6,16.7,16.8,16.7,16.6,16.6,16.7,16.8,16.8,16.9,16.7],
  [15.9,15.9,15.8,15.6,15.5,15.6,15.7,15.9,16.0,16.1,16.1,16.0,15.9,15.8,15.8,15.9,16.0,16.1,16.0,16.1,16.2,16.1,16.0,16.1,16.2,16.2,16.3,16.3,16.2],
  [17.4,17.4,17.3,17.2,17.1,17.2,17.3,17.4,17.5,17.6,17.7,17.6,17.5,17.4,17.4,17.5,17.6,17.7,17.6,17.7,17.8,17.7,17.6,17.7,17.8,17.8,17.9,17.9,17.8],
  [15.0,15.0,14.9,14.8,14.7,14.8,14.9,15.0,15.1,15.2,15.3,15.2,15.1,15.0,15.0,15.1,15.2,15.3,15.2,15.3,15.4,15.3,15.2,15.2,15.3,15.3,15.4,15.4,15.3],
  [18.9,18.9,18.8,18.7,18.7,18.8,18.8,18.9,19.0,19.0,19.1,19.1,19.0,19.0,19.0,19.1,19.2,19.2,19.2,19.3,19.3,19.3,19.3,19.4,19.4,19.5,19.5,19.6,19.4],
  [16.1,16.2,16.1,15.9,15.8,15.9,16.0,16.2,16.3,16.4,16.4,16.3,16.2,16.1,16.1,16.2,16.3,16.4,16.3,16.4,16.5,16.4,16.3,16.4,16.4,16.5,16.5,16.6,16.4],
  [14.6,14.7,14.6,14.5,14.5,14.6,14.8,15.0,15.2,15.3,15.3,15.2,15.1,15.0,15.0,15.1,15.2,15.3,15.2,15.0,14.8,14.9,14.8,14.7,14.6,14.7,14.9,15.0,14.9],
  [17.9,18.0,17.9,17.8,17.7,17.8,17.9,18.0,18.1,18.2,18.2,18.1,18.0,18.0,18.0,18.1,18.2,18.3,18.2,18.3,18.4,18.3,18.2,18.3,18.4,18.4,18.5,18.5,18.3],
  [15.5,15.6,15.5,15.3,15.2,15.3,15.4,15.6,15.7,15.8,15.8,15.7,15.6,15.5,15.5,15.6,15.7,15.8,15.7,15.8,15.9,15.8,15.7,15.8,15.9,15.9,16.0,16.0,15.8],
];

const TYPE_COLORS = ["rgba(248,118,109,0.4)", "rgba(0,186,56,0.4)", "rgba(97,156,255,0.4)"];
const KEY_COLORS = ["rgba(248,118,109,0.55)", "rgba(0,186,56,0.5)", "rgba(97,156,255,0.55)"];
const SANS = '"Liberation Sans", Arial, Helvetica, sans-serif';
const SERIF = '"Liberation Serif", "DejaVu Serif", serif';
const GRID_MAJOR = "#e4e4e4";
const GRID_MINOR = "#f3f3f3";
const TICK_COLOR = "#333333";

const near = (list: number[], v: number | undefined) =>
  v !== undefined && list.some((a) => Math.abs(a - v) < 1e-6);

function buildDatasets(groups: V[][][]) {
  const ds: any[] = [];
  const maxLen = Math.max(...groups.map((g) => g.length));
  for (let i = 0; i < maxLen; i++) {
    groups.forEach((g, t) => {
      const vals = g[i];
      if (!vals) return;
      ds.push({
        label: TYPE_LABELS[t],
        data: YEARS.map((x, k) => ({ x, y: vals[k] === undefined ? null : vals[k] })),
        borderColor: TYPE_COLORS[t],
        borderWidth: 1,
        pointRadius: 0,
        fill: false,
        tension: 0,
        spanGaps: false,
      });
    });
  }
  return ds;
}

interface PanelProps {
  left: number;
  width: number;
  groups: V[][][];
  yMin: number;
  yMax: number;
  yMajor: number[];
  yMinor: number[];
  yDigits: number;
  yTitle: string;
  yTitlePad: number;
  yAxisWidth: number;
  yLabelPad: number;
  padTop: number;
  padRight: number;
  xAxisHeight: number;
  xTitlePadBottom: number;
}

function Panel(p: PanelProps) {
  const ref = useRef<HTMLCanvasElement | null>(null);
  useEffect(() => {
    if (!ref.current) return;
    const allY = [...p.yMajor, ...p.yMinor].sort((a, b) => a - b);
    const chart = new Chart(ref.current, {
      type: "line",
      data: { datasets: buildDatasets(p.groups) },
      options: {
        animation: false,
        responsive: false,
        devicePixelRatio: 1,
        events: [],
        layout: { padding: { left: 0, right: p.padRight, top: p.padTop, bottom: 0 } },
        plugins: { legend: { display: false }, tooltip: { enabled: false }, title: { display: false } },
        scales: {
          x: {
            type: "linear",
            min: 1978.6,
            max: 2009.4,
            afterBuildTicks: (s: any) => {
              s.ticks = X_TICKS.map((v) => ({ value: v }));
            },
            afterFit: (s: any) => {
              s.height = p.xAxisHeight;
            },
            border: { display: false },
            grid: {
              color: (c: any) => (near(X_MAJOR, c.tick?.value) ? GRID_MAJOR : GRID_MINOR),
              tickColor: (c: any) => (near(X_MAJOR, c.tick?.value) ? TICK_COLOR : "rgba(0,0,0,0)"),
              tickLength: 5,
              lineWidth: 1,
            },
            ticks: {
              autoSkip: false,
              maxRotation: 0,
              minRotation: 0,
              padding: 2.5,
              color: TICK_COLOR,
              font: { family: SANS, size: 11 },
              callback: (v: any) => (near(X_MAJOR, Number(v)) ? String(v) : ""),
            },
            title: {
              display: true,
              text: "year",
              color: "#1a1a1a",
              font: { family: SANS, size: 13 },
              padding: { top: 0, bottom: p.xTitlePadBottom },
            },
          },
          y: {
            type: "linear",
            min: p.yMin,
            max: p.yMax,
            afterBuildTicks: (s: any) => {
              s.ticks = allY.map((v) => ({ value: v }));
            },
            afterFit: (s: any) => {
              s.width = p.yAxisWidth;
            },
            border: { display: false },
            grid: {
              color: (c: any) => (near(p.yMajor, c.tick?.value) ? GRID_MAJOR : GRID_MINOR),
              tickColor: (c: any) => (near(p.yMajor, c.tick?.value) ? TICK_COLOR : "rgba(0,0,0,0)"),
              tickLength: 5,
              lineWidth: 1,
            },
            ticks: {
              autoSkip: false,
              padding: p.yLabelPad,
              color: TICK_COLOR,
              font: { family: SANS, size: 11 },
              callback: (v: any) => (near(p.yMajor, Number(v)) ? Number(v).toFixed(p.yDigits) : ""),
            },
            title: {
              display: true,
              text: p.yTitle,
              color: "#1a1a1a",
              font: { family: SANS, size: 13 },
              padding: { top: p.yTitlePad, bottom: 0 },
            },
          },
        },
      } as any,
    });
    return () => chart.destroy();
  }, []);
  return (
    <canvas
      ref={ref}
      width={p.width}
      height={510}
      style={{ position: "absolute", left: p.left, top: 0, width: p.width, height: 510 }}
    />
  );
}

function Legend({ left, centerY }: { left: number; centerY: number }) {
  return (
    <div
      style={{
        position: "absolute",
        left,
        top: centerY - 7,
        height: 14,
        display: "flex",
        alignItems: "center",
        fontFamily: SANS,
        fontSize: 10.5,
        color: "#222",
        whiteSpace: "nowrap",
      }}
    >
      <span style={{ fontWeight: "bold", marginRight: 9 }}>Type</span>
      {TYPE_LABELS.map((lab, i) => (
        <React.Fragment key={lab}>
          <span style={{ display: "inline-block", width: 15, height: 1, background: KEY_COLORS[i], marginRight: 4 }} />
          <span style={{ marginRight: 5 }}>{lab}</span>
        </React.Fragment>
      ))}
    </div>
  );
}

const subStyle: React.CSSProperties = { fontSize: 16, position: "relative", top: 4, lineHeight: 0 };
const mathStyle: React.CSSProperties = { fontFamily: SERIF, fontWeight: "bold", fontStyle: "italic", color: "#111", letterSpacing: 0.6 };

export default function App() {
  return (
    <div style={{ position: "absolute", left: 0, top: 0, width: 1321, height: 510, background: "#fff", overflow: "hidden" }}>
      {/* left title: fraction */}
      <div style={{ position: "absolute", left: 210, width: 200, top: 10.5, height: 20, lineHeight: "20px", fontSize: 23, textAlign: "center", whiteSpace: "nowrap", ...mathStyle }}>
        P<span style={subStyle}>M,t</span>M<span style={subStyle}>it</span>
      </div>
      <div style={{ position: "absolute", left: 261, width: 99, top: 32.5, height: 0, borderTop: "1.6px solid #222" }} />
      <div style={{ position: "absolute", left: 210, width: 200, top: 33, height: 20, lineHeight: "20px", fontSize: 23, textAlign: "center", whiteSpace: "nowrap", ...mathStyle }}>
        P<span style={subStyle}>Y,t</span>Y<span style={subStyle}>it</span>
      </div>
      {/* right title */}
      <div style={{ position: "absolute", left: 917, width: 200, top: 26, height: 22, lineHeight: "22px", fontSize: 25, textAlign: "center", whiteSpace: "nowrap", fontFamily: SERIF, fontWeight: "bold", color: "#111", letterSpacing: 1.5 }}>
        ln <span style={{ fontStyle: "italic" }}>Y</span>
        <span style={{ fontStyle: "italic", fontSize: 18, position: "relative", top: 5, lineHeight: 0 }}>it</span>
      </div>

      <Panel
        left={0}
        width={620}
        groups={[shareType1, shareType2, shareType3]}
        yMin={-0.0456}
        yMax={1.0508}
        yMajor={LEFT_Y_MAJOR}
        yMinor={LEFT_Y_MINOR}
        yDigits={2}
        yTitle="exp(lnmY_it)"
        yTitlePad={12.2}
        yAxisWidth={56.5}
        yLabelPad={5}
        padTop={78.3}
        padRight={14}
        xAxisHeight={78}
        xTitlePadBottom={41.2}
      />
      <Panel
        left={700}
        width={621}
        groups={[outputType1, outputType2, outputType3]}
        yMin={11.783}
        yMax={22.214}
        yMajor={RIGHT_Y_MAJOR}
        yMinor={RIGHT_Y_MINOR}
        yDigits={1}
        yTitle="y_it"
        yTitlePad={17.2}
        yAxisWidth={62.3}
        yLabelPad={4}
        padTop={67.7}
        padRight={8.9}
        xAxisHeight={89}
        xTitlePadBottom={52.4}
      />

      <Legend left={269} centerY={495.5} />
      <Legend left={976} centerY={483.6} />
    </div>
  );
}
